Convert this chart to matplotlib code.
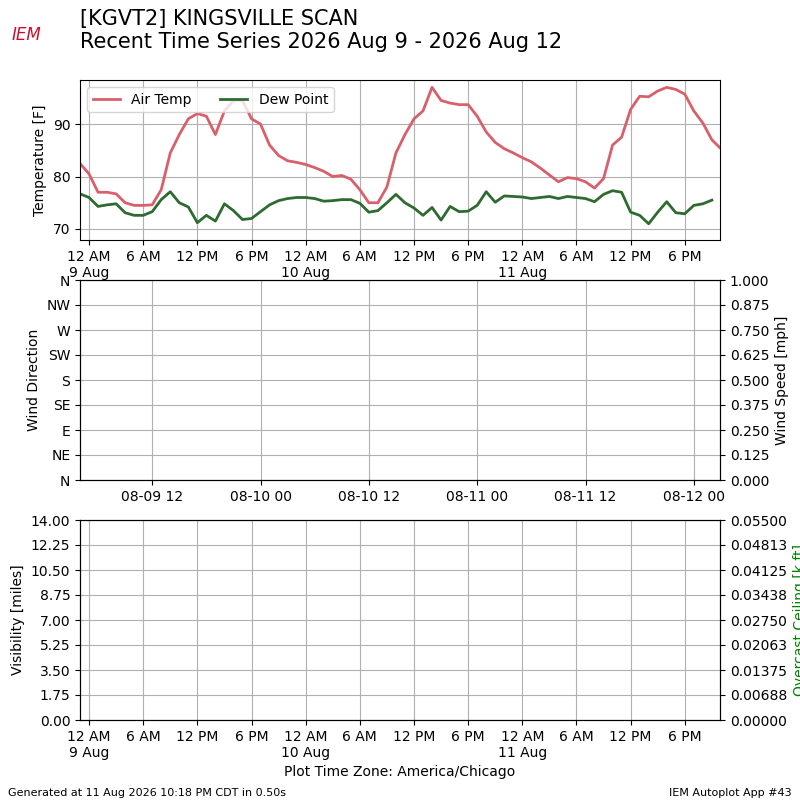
import matplotlib
matplotlib.use("Agg")
import matplotlib.pyplot as plt

# hours relative to 12 AM 9 Aug (America/Chicago)
hours = list(range(-1, 71))
air_temp = [82.5, 80.5, 77, 77, 76.7, 75, 74.5, 74.5, 74.6, 77.5, 84.5, 88, 91, 92, 91.5, 88,
            92.5, 94.5, 94.5, 91, 90, 86, 84, 83, 82.7, 82.3, 81.7, 81, 80, 80.2, 79.5, 77.5,
            75, 75, 78, 84.5, 88, 91, 92.5, 97, 94.5, 94, 93.7, 93.7, 91.5, 88.5, 86.5, 85.3,
            84.5, 83.6, 82.8, 81.6, 80.3, 79, 79.8, 79.6, 79, 77.8, 79.6, 86, 87.5, 92.8, 95.3,
            95.2, 96.3, 97, 96.6, 95.7, 92.5, 90.2, 87, 85.3]
dew_hours = list(range(-1, 70))
dew_point = [76.7, 76, 74.3, 74.6, 74.8, 73.1, 72.6, 72.6, 73.3, 75.6, 77.1, 75, 74.2, 71.2,
             72.6, 71.5, 74.8, 73.5, 71.8, 72, 73.3, 74.6, 75.4, 75.8, 76, 76, 75.8, 75.3, 75.4,
             75.6, 75.6, 74.9, 73.2, 73.5, 75, 76.6, 75, 74, 72.6, 74.1, 71.7, 74.3, 73.3, 73.4,
             74.5, 77.1, 75.1, 76.3, 76.2, 76.1, 75.8, 76, 76.2, 75.8, 76.2, 76, 75.8, 75.2, 76.6,
             77.3, 77, 73.2, 72.6, 71, 73.2, 75.2, 73.1, 72.9, 74.5, 74.8, 75.5]
local_ticks = list(range(0, 67, 6))
local_labels = ["12 AM\n9 Aug", "6 AM", "12 PM", "6 PM", "12 AM\n10 Aug", "6 AM", "12 PM",
                "6 PM", "12 AM\n11 Aug", "6 AM", "12 PM", "6 PM"]
utc_ticks = [7, 19, 31, 43, 55, 67]
utc_labels = ["08-09 12", "08-10 00", "08-10 12", "08-11 00", "08-11 12", "08-12 00"]
dir_labels = ["N", "NE", "E", "SE", "S", "SW", "W", "NW", "N"]

xmin, xmax = -1, 69.9
fig = plt.figure(figsize=(8, 8), dpi=100)

ax1 = fig.add_axes([0.1, 0.7, 0.8, 0.2])
ax1.plot(hours, air_temp, color="#d9606a", lw=2, label="Air Temp")
ax1.plot(dew_hours, dew_point, color="#2e6b30", lw=2, label="Dew Point")
ax1.set_xlim(xmin, xmax)
ax1.set_ylim(67.9, 98.4)
ax1.set_yticks([70, 80, 90])
ax1.set_xticks(local_ticks)
ax1.set_xticklabels(local_labels)
ax1.set_ylabel("Temperature [F]")
ax1.grid(True)
ax1.legend(loc="upper left", ncol=2)

ax2 = fig.add_axes([0.1, 0.4, 0.8, 0.25])
ax2.set_xlim(xmin, xmax)
ax2.set_ylim(0, 360)
ax2.set_yticks(range(0, 361, 45))
ax2.set_yticklabels(dir_labels)
ax2.set_xticks(utc_ticks)
ax2.set_xticklabels(utc_labels)
ax2.set_ylabel("Wind Direction")
ax2.grid(True)
ax2r = ax2.twinx()
ax2r.set_ylim(0, 1)
ax2r.set_yticks([i * 0.125 for i in range(9)])
ax2r.set_yticklabels([f"{i * 0.125:.3f}" for i in range(9)])
ax2r.set_ylabel("Wind Speed [mph]")

ax3 = fig.add_axes([0.1, 0.1, 0.8, 0.25])
ax3.set_xlim(xmin, xmax)
ax3.set_ylim(0, 14)
ax3.set_yticks([i * 1.75 for i in range(9)])
ax3.set_yticklabels([f"{i * 1.75:.2f}" for i in range(9)])
ax3.set_xticks(local_ticks)
ax3.set_xticklabels(local_labels)
ax3.set_ylabel("Visibility [miles]")
ax3.set_xlabel("Plot Time Zone: America/Chicago")
ax3.grid(True)
ax3r = ax3.twinx()
ax3r.set_ylim(0, 0.055)
ax3r.set_yticks([i * 0.006875 for i in range(9)])
ax3r.set_yticklabels([f"{i * 0.006875:.5f}" for i in range(9)])
ax3r.set_ylabel("Overcast Ceiling [k ft]", color="green")

fig.text(0.1, 0.935, "[KGVT2] KINGSVILLE SCAN\nRecent Time Series 2026 Aug 9 - 2026 Aug 12",
         fontsize=15, va="bottom")
fig.text(0.015, 0.95, "IEM", color="#c8102e", fontsize=12, style="italic")
fig.text(0.01, 0.005, "Generated at 11 Aug 2026 10:18 PM CDT in 0.50s", fontsize=8)
fig.text(0.99, 0.005, "IEM Autoplot App #43", fontsize=8, ha="right")

fig.savefig("out.png")
